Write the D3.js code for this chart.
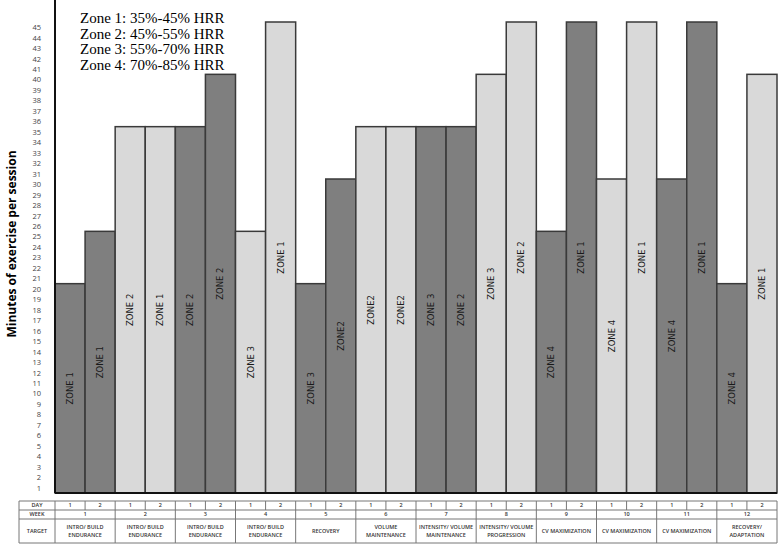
<!DOCTYPE html>
<html>
<head>
<meta charset="utf-8">
<title>Minutes of exercise per session</title>
<script src="https://d3js.org/d3.v7.min.js"></script>
<style>
  body { margin: 0; background: #fff; }
  svg { display: block; }
</style>
</head>
<body>
<div id="chart"></div>
<script>
// data, one entry per session (12 weeks x 2 days)
const weeks = [1, 1, 2, 2, 3, 3, 4, 4, 5, 5, 6, 6, 7, 7, 8, 8, 9, 9, 10, 10, 11, 11, 12, 12];
const days = [1, 2, 1, 2, 1, 2, 1, 2, 1, 2, 1, 2, 1, 2, 1, 2, 1, 2, 1, 2, 1, 2, 1, 2];
const minutes = [20, 25, 35, 35, 35, 40, 25, 45, 20, 30, 35, 35, 35, 35, 40, 45, 25, 45, 30, 45, 30, 45, 20, 40];
const zoneLabels = ["ZONE 1", "ZONE 1", "ZONE 2", "ZONE 1", "ZONE 2", "ZONE 2", "ZONE 3", "ZONE 1",
                    "ZONE 3", "ZONE2", "ZONE2", "ZONE2", "ZONE 3", "ZONE 2", "ZONE 3", "ZONE 2",
                    "ZONE 4", "ZONE 1", "ZONE 4", "ZONE 1", "ZONE 4", "ZONE 1", "ZONE 4", "ZONE 1"];
const shade = ["dark", "dark", "light", "light", "dark", "dark", "light", "light",
               "dark", "dark", "light", "light", "dark", "dark", "light", "light",
               "dark", "dark", "light", "light", "dark", "dark", "dark", "light"];
const weekTargets = [
  ["INTRO/ BUILD", "ENDURANCE"], ["INTRO/ BUILD", "ENDURANCE"], ["INTRO/ BUILD", "ENDURANCE"],
  ["INTRO/ BUILD", "ENDURANCE"], ["RECOVERY"], ["VOLUME", "MAINTENANCE"],
  ["INTENSITY/ VOLUME", "MAINTENANCE"], ["INTENSITY/ VOLUME", "PROGRESSION"],
  ["CV MAXIMIZATION"], ["CV MAXIMIZATION"], ["CV MAXIMIZATION"], ["RECOVERY/", "ADAPTATION"]
];
const legendLines = ["Zone 1: 35%-45% HRR", "Zone 2: 45%-55% HRR", "Zone 3: 55%-70% HRR", "Zone 4: 70%-85% HRR"];
const yTicks = d3.range(1, 46);

const W = 778, H = 544;
const plotLeft = 55, plotRight = 777, plotBase = 493, plotTop = 22;
const fills = { dark: "#7f7f7f", light: "#d9d9d9" };

const svg = d3.select("#chart").append("svg")
  .attr("width", W).attr("height", H);

const idx = d3.range(minutes.length);
const x = d3.scaleBand().domain(idx).range([plotLeft, plotRight]).padding(0);
const y = d3.scaleLinear().domain([0, 45]).range([plotBase, plotTop]);

// bars
svg.selectAll("rect.bar")
  .data(idx)
  .enter().append("rect")
  .attr("class", "bar")
  .attr("x", i => x(i))
  .attr("y", i => y(minutes[i]))
  .attr("width", x.bandwidth())
  .attr("height", i => y(0) - y(minutes[i]))
  .attr("fill", i => fills[shade[i]])
  .attr("stroke", "#3a3a3a")
  .attr("stroke-width", 1.5);

// zone labels inside bars
svg.selectAll("text.zone")
  .data(idx)
  .enter().append("text")
  .attr("class", "zone")
  .attr("transform", i => "translate(" + (x(i) + x.bandwidth() / 2) + "," + ((y(minutes[i]) + y(0)) / 2) + ") rotate(-90)")
  .attr("text-anchor", "middle")
  .attr("dy", "0.35em")
  .attr("font-family", "DejaVu Sans, sans-serif")
  .attr("font-size", "8.5px")
  .attr("fill", "#1a1a1a")
  .text(i => zoneLabels[i]);

// y axis: labels sit between the unit lines
const yAxis = d3.axisLeft(y)
  .tickValues(yTicks.map(k => k - 0.5))
  .tickFormat(v => Math.round(v + 0.5))
  .tickSize(0)
  .tickPadding(14);

const gy = svg.append("g")
  .attr("transform", "translate(" + plotLeft + ",0)")
  .call(yAxis);
gy.select(".domain").remove();
gy.selectAll("text")
  .attr("font-family", "Open Sans, sans-serif")
  .attr("font-size", "7.5px")
  .attr("fill", "#444");

svg.append("line")
  .attr("x1", plotLeft).attr("x2", plotLeft)
  .attr("y1", 0).attr("y2", plotBase)
  .attr("stroke", "#111").attr("stroke-width", 2);
svg.append("line")
  .attr("x1", plotLeft).attr("x2", plotRight)
  .attr("y1", plotBase).attr("y2", plotBase)
  .attr("stroke", "#111").attr("stroke-width", 2);

// axis title
svg.append("text")
  .attr("transform", "translate(12,244) rotate(-90)")
  .attr("text-anchor", "middle")
  .attr("dy", "0.35em")
  .attr("font-family", "Open Sans, sans-serif")
  .attr("font-weight", "bold")
  .attr("font-size", "12px")
  .attr("fill", "#000")
  .text("Minutes of exercise per session");

// legend
svg.selectAll("text.legend")
  .data(legendLines)
  .enter().append("text")
  .attr("class", "legend")
  .attr("x", 80)
  .attr("y", (d, i) => 23 + i * 15.5)
  .attr("font-family", "Liberation Serif, Times New Roman, serif")
  .attr("font-size", "15px")
  .attr("fill", "#000")
  .text(d => d);

// table below the chart
const tLeft = 19, tTop = 501, r1 = 510, r2 = 519, tBot = 543;
const tbl = svg.append("g");
const lineCol = "#777";
const cellFont = { family: "Open Sans, sans-serif", size: "5.5px" };

function hline(yy) {
  tbl.append("line").attr("x1", tLeft).attr("x2", plotRight).attr("y1", yy).attr("y2", yy)
    .attr("stroke", lineCol).attr("stroke-width", 1);
}
[tTop, r1, r2, tBot].forEach(hline);

// vertical lines: outer, header column, week borders, day dividers
tbl.append("line").attr("x1", tLeft).attr("x2", tLeft).attr("y1", tTop).attr("y2", tBot)
  .attr("stroke", lineCol);
idx.forEach(i => {
  const xx = x(i);
  const weekEdge = days[i] === 1;
  tbl.append("line").attr("x1", xx).attr("x2", xx)
    .attr("y1", tTop).attr("y2", weekEdge ? tBot : r1)
    .attr("stroke", lineCol);
});
tbl.append("line").attr("x1", plotRight).attr("x2", plotRight).attr("y1", tTop).attr("y2", tBot)
  .attr("stroke", lineCol);

function cellText(tx, ty, s) {
  tbl.append("text")
    .attr("x", tx).attr("y", ty)
    .attr("text-anchor", "middle")
    .attr("dy", "0.35em")
    .attr("font-family", cellFont.family)
    .attr("font-size", cellFont.size)
    .attr("font-weight", "600")
    .attr("fill", "#333")
    .text(s);
}

const hx = (tLeft + plotLeft) / 2;
cellText(hx, (tTop + r1) / 2, "DAY");
cellText(hx, (r1 + r2) / 2, "WEEK");
cellText(hx, (r2 + tBot) / 2, "TARGET");

idx.forEach(i => cellText(x(i) + x.bandwidth() / 2, (tTop + r1) / 2, days[i]));

weekTargets.forEach((t, w) => {
  const cx = x(w * 2) + x.bandwidth();
  cellText(cx, (r1 + r2) / 2, weeks[w * 2]);
  const mid = (r2 + tBot) / 2;
  if (t.length === 1) {
    cellText(cx, mid, t[0]);
  } else {
    cellText(cx, mid - 3.8, t[0]);
    cellText(cx, mid + 3.8, t[1]);
  }
});
</script>
</body>
</html>
